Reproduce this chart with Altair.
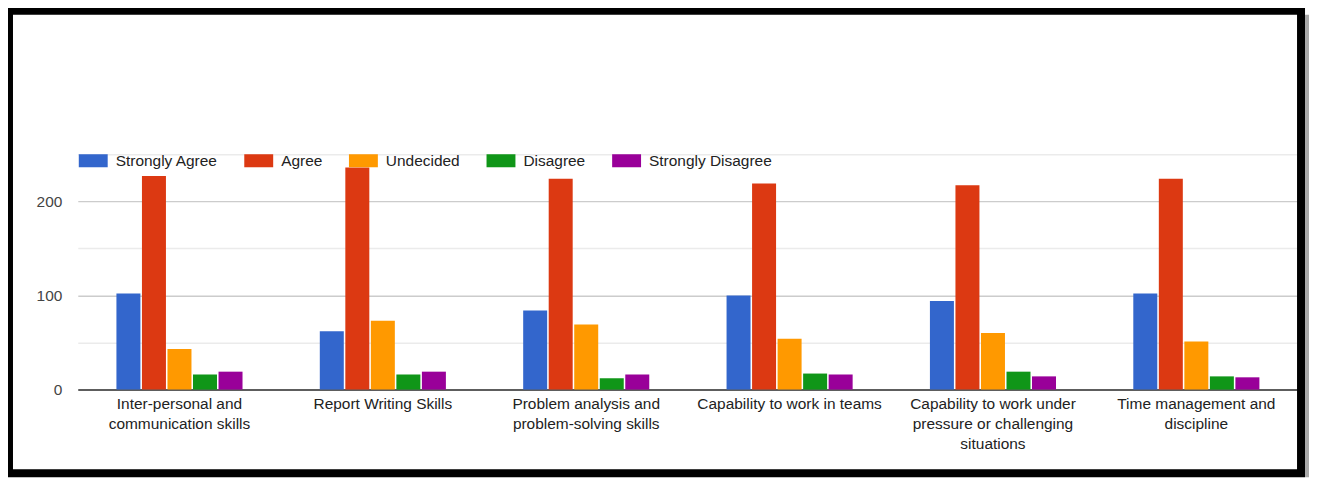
import json
import altair as alt
import pandas as pd

categories = [
    "Inter-personal and communication skills",
    "Report Writing Skills",
    "Problem analysis and problem-solving skills",
    "Capability to work in teams",
    "Capability to work under pressure or challenging situations",
    "Time management and discipline",
]
label_lines = [
    ["Inter-personal and", "communication skills"],
    ["Report Writing Skills"],
    ["Problem analysis and", "problem-solving skills"],
    ["Capability to work in teams"],
    ["Capability to work under", "pressure or challenging", "situations"],
    ["Time management and", "discipline"],
]
series = ["Strongly Agree", "Agree", "Undecided", "Disagree", "Strongly Disagree"]
colors = ["#3366cc", "#dc3912", "#ff9900", "#109618", "#990099"]

strongly_agree = [102, 62, 84, 100, 94, 102]
agree = [227, 236, 224, 219, 217, 224]
undecided = [43, 73, 69, 54, 60, 51]
disagree = [16, 16, 12, 17, 19, 14]
strongly_disagree = [19, 19, 16, 16, 14, 13]

y_ticks = [0, 50, 100, 150, 200, 250]

values = [strongly_agree, agree, undecided, disagree, strongly_disagree]
rows = []
for s, vals in zip(series, values):
    for c, v in zip(categories, vals):
        rows.append({"category": c, "series": s, "value": v})
df = pd.DataFrame(rows)

FONT = "Liberation Sans"
label_expr = "{}[indexof({}, datum.label)]".format(json.dumps(label_lines), json.dumps(categories))

bars = alt.Chart(df).mark_bar().encode(
    x=alt.X(
        "category:N",
        sort=categories,
        scale=alt.Scale(paddingInner=0.38, paddingOuter=0.19),
        axis=alt.Axis(
            title=None,
            labelAngle=0,
            labelExpr=label_expr,
            labelFont=FONT,
            labelFontSize=15.5,
            labelColor="#222222",
            labelLineHeight=20,
            labelPadding=7,
            labelLimit=400,
            ticks=False,
            domainColor="#333333",
            domainWidth=1.5,
            grid=False,
        ),
    ),
    xOffset=alt.XOffset("series:N", sort=series, scale=alt.Scale(paddingInner=0.06)),
    y=alt.Y(
        "value:Q",
        scale=alt.Scale(domain=[0, 250], nice=False),
        axis=alt.Axis(
            title=None,
            values=y_ticks,
            labelExpr="datum.value % 100 === 0 ? datum.label : ''",
            labelFont=FONT,
            labelFontSize=15.5,
            labelColor="#444444",
            labelPadding=16,
            ticks=False,
            domain=False,
            gridColor={"condition": {"test": "datum.value % 100 === 0", "value": "#cccccc"}, "value": "#ebebeb"},
            gridWidth=1.5,
        ),
    ),
    color=alt.Color(
        "series:N",
        sort=series,
        scale=alt.Scale(domain=series, range=colors),
        legend=alt.Legend(
            title=None,
            orient="none",
            legendX=1,
            legendY=-8,
            direction="horizontal",
            columns=5,
            columnPadding=26,
            padding=0,
            symbolType="M-1,-0.45L1,-0.45L1,0.45L-1,0.45Z",
            symbolSize=841,
            symbolStrokeWidth=0,
            symbolOpacity=1,
            labelOffset=8,
            labelFont=FONT,
            labelFontSize=15.5,
            labelColor="#222222",
        ),
    ),
)

frame = alt.Chart(pd.DataFrame({"k": [0]})).mark_rect(
    filled=False, stroke="black", strokeWidth=8
).encode(
    x=alt.value(-69), x2=alt.value(1227), y=alt.value(-144), y2=alt.value(320)
)

shadow = alt.Chart(pd.DataFrame({"k": [0]})).mark_rect(
    fill="#a8a8a8"
).encode(
    x=alt.value(1231), x2=alt.value(1235), y=alt.value(-140), y2=alt.value(324)
)

chart = alt.layer(bars, frame, shadow).properties(
    width=1224,
    height=236,
    autosize=alt.AutoSizeParams(type="none"),
    padding={"left": 70, "top": 146, "right": 11, "bottom": 88},
    background="white",
).configure_view(stroke=None)

chart.save("out.html", embed_options={"renderer": "svg", "actions": False})
